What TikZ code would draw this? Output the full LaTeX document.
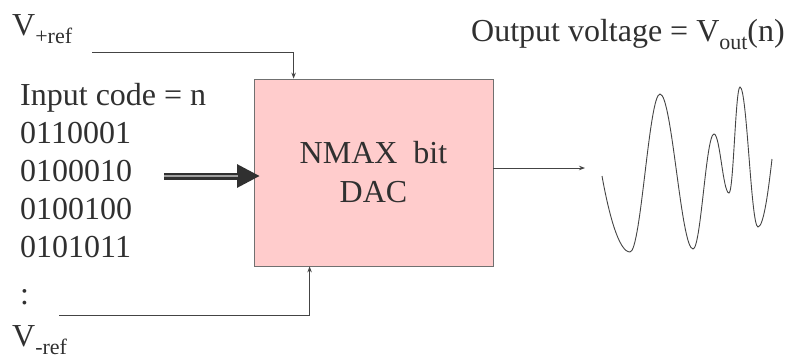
\documentclass[tikz,border=0pt]{standalone}
\usepackage{fontspec}
\setmainfont{Liberation Serif}
\usetikzlibrary{arrows.meta,calc}
\definecolor{txt}{HTML}{303030}
\definecolor{ln}{HTML}{444444}
\definecolor{boxfill}{HTML}{FFCCCC}
\definecolor{boxline}{HTML}{707070}
\definecolor{midgray}{HTML}{A0A0A0}
\newcommand{\subtx}[1]{\raisebox{-8pt}{\fontsize{22}{22}\selectfont #1}}
\tikzset{
  lbl/.style={inner sep=0pt, anchor=base west, text=txt, font=\fontsize{32}{38}\selectfont},
  conn/.style={draw=ln, line width=0.9pt, -{Stealth[length=6pt,width=4.5pt]}},
  dacbox/.style={draw=boxline, fill=boxfill, line width=0.8pt, minimum width=239pt, minimum height=187pt, inner sep=0pt, text=txt, font=\fontsize{32}{39}\selectfont, align=center},
  wave/.style={draw=ln, line width=0.9pt}
}
\begin{document}
\begin{tikzpicture}[x=1pt,y=-1pt]
\useasboundingbox (0,0) rectangle (790,360);
% labels
\node[lbl] (vp) at (12,35) {V\subtx{+ref}};
\node[lbl] (vm) at (12,346) {V\subtx{-ref}};
\node[lbl] (ic) at (20,105) {Input code = n};
\node[lbl] (c1) at (20,143) {0110001};
\node[lbl] (c2) at (20,181) {0100010};
\node[lbl] (c3) at (20,219) {0100100};
\node[lbl] (c4) at (20,257) {0101011};
\node[lbl] (dots) at (20,304) {:};
\node[lbl, anchor=base east] (ov) at (785,41) {Output voltage = V\subtx{out}(n)};
% DAC box
\node[dacbox] (dac) at (373.5,172.5) {NMAX\ \ bit\\DAC};
% reference connectors
\coordinate (pstart) at (92,52);
\coordinate (mstart) at (59,315);
\draw[conn] (pstart) -| ($(dac.north west)+(40,0)$);
\draw[conn] (mstart) -| ($(dac.south west)+(56,0)$);
% input bus arrow
\coordinate (in) at (164,176);
\coordinate (inh) at (238,176);
\coordinate (tip) at (260,176);
\draw[draw=txt, line width=7pt, -{Triangle[length=23pt,width=22pt]}] (in) -- (tip);
\draw[draw=midgray, line width=1.6pt] (in) -- (inh);
% output arrow
\coordinate (outend) at (585,168);
\draw[conn] (dac.east |- outend) -- (outend);
% waveform
\draw[wave] (602,176) .. controls (609,215) and (619,252) .. (630,252)
  .. controls (641,252) and (649,94) .. (660,94)
  .. controls (672,94) and (681,249) .. (693,249)
  .. controls (701,249) and (706,134) .. (714,134)
  .. controls (720,134) and (723,193) .. (729,193)
  .. controls (733.5,193) and (735.5,87) .. (740,87)
  .. controls (747,87) and (751,227) .. (758,227)
  .. controls (764,227) and (769,185) .. (772,159);
\end{tikzpicture}
\end{document}
